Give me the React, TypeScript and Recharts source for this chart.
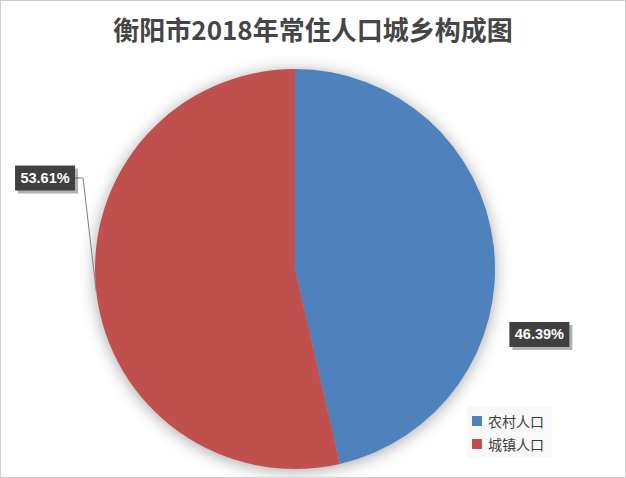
import { PieChart, Pie, Cell, Legend } from "recharts";

const CATEGORIES = ["农村人口", "城镇人口"];
const SHARES = [46.39, 53.61];
const COLORS = ["#4F81BD", "#C0504D"];

// where the data labels sit (angle in degrees, distance from centre)
const LABEL_ANGLE = [-15, 160];
const LABEL_RADIUS = [253, 266];
const LEADER = [false, true];

const data = CATEGORIES.map((name, i) => ({ name, value: SHARES[i] }));

const RAD = Math.PI / 180;

function renderLabel(props: any) {
  const { cx, cy, midAngle, outerRadius, index, percent } = props;
  const a = LABEL_ANGLE[index];
  const r = LABEL_RADIUS[index];
  const x = cx + r * Math.cos(-a * RAD);
  const y = cy + r * Math.sin(-a * RAD);
  const w = 60;
  const h = 25;
  const text = (percent * 100).toFixed(2) + "%";
  const ex = cx + outerRadius * Math.cos(-midAngle * RAD);
  const ey = cy + outerRadius * Math.sin(-midAngle * RAD);
  return (
    <g key={"lbl" + index} className="pie-label">
      {LEADER[index] && (
        <polyline
          points={`${x + w / 2},${y} ${x + w / 2 + 8},${y} ${ex},${ey}`}
          fill="none"
          stroke="#7f7f7f"
          strokeWidth={1}
        />
      )}
      <rect x={x - w / 2 + 3} y={y - h / 2 + 3} width={w} height={h} fill="rgba(0,0,0,0.3)" />
      <rect x={x - w / 2} y={y - h / 2} width={w} height={h} fill="#404040" />
      <text
        x={x}
        y={y}
        textAnchor="middle"
        dominantBaseline="central"
        fill="#ffffff"
        fontSize={14.5}
        fontWeight="bold"
        fontFamily="'Liberation Sans', Arial, sans-serif"
      >
        {text}
      </text>
    </g>
  );
}

function renderLegend(props: any) {
  const { payload } = props;
  return (
    <div
      style={{
        background: "#f8f8f8",
        padding: "3px 6px 3px 5px",
        width: 74,
        fontFamily: "'Noto Sans CJK SC', sans-serif",
        fontSize: 14,
        color: "#404040",
      }}
    >
      {payload.map((p: any, i: number) => (
        <div key={i} style={{ display: "flex", alignItems: "center", height: 23 }}>
          <span style={{ width: 10, height: 10, background: p.color, marginRight: 6, display: "inline-block" }} />
          <span>{p.value}</span>
        </div>
      ))}
    </div>
  );
}

export default function App() {
  return (
    <div style={{ position: "absolute", left: 0, top: 0, width: 626, height: 478, background: "#fff" }}>
      <style>{`g:has(> .recharts-pie-sector) { filter: drop-shadow(0px 2px 8px rgba(0,0,0,0.35)); }`}</style>
      <div
        style={{
          position: "absolute",
          top: 14,
          left: 0,
          width: 626,
          textAlign: "center",
          fontFamily: "'Noto Sans CJK SC', sans-serif",
          fontWeight: "bold",
          fontSize: 26,
          lineHeight: "30px",
          color: "#454545",
        }}
      >
        衡阳市2018年常住人口城乡构成图
      </div>
      <PieChart
        width={626}
        height={478}
        margin={{ top: 0, right: 0, bottom: 0, left: 0 }}
        style={{ position: "absolute", left: 0, top: 0 }}
      >
        <Pie
          data={data}
          dataKey="value"
          nameKey="name"
          cx={295}
          cy={269}
          outerRadius={200}
          startAngle={90}
          endAngle={-270}
          stroke="none"
          label={renderLabel}
          labelLine={false}
          isAnimationActive={false}
        >
          {data.map((d, i) => (
            <Cell key={d.name} fill={COLORS[i]} />
          ))}
        </Pie>
        <Legend
          layout="vertical"
          content={renderLegend}
          wrapperStyle={{ position: "absolute", left: 467, top: 406, width: 85 }}
        />
      </PieChart>
      <div
        style={{
          position: "absolute",
          left: 0,
          top: 0,
          width: 626,
          height: 478,
          boxSizing: "border-box",
          border: "1px solid #d0d0d0",
          pointerEvents: "none",
        }}
      />
    </div>
  );
}
